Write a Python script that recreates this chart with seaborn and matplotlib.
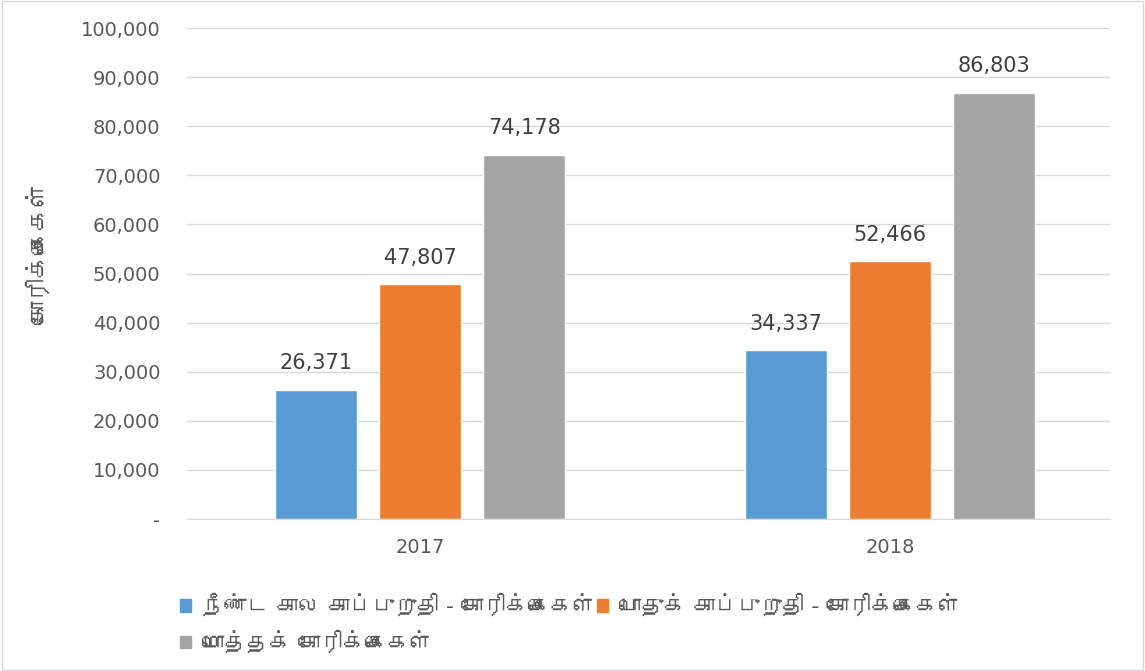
import pandas as pd
import matplotlib.pyplot as plt
import seaborn as sns
from matplotlib import font_manager
from matplotlib.ft2font import FT2Font
from matplotlib.ticker import FuncFormatter
from matplotlib.patches import Patch

# data
years = ['2017', '2018']
series = ['நீண்ட கால காப்புறுதி - கோரிக்கைகள்',
          'பொதுக் காப்புறுதி - கோரிக்கைகள்',
          'மொத்தக் கோரிக்கைகள்']
long_term = [26371, 34337]
general = [47807, 52466]
total = [74178, 86803]
colors = ['#5b9bd5', '#ed7d31', '#a5a5a5']

df = pd.DataFrame({
    'year': years * 3,
    'series': [series[0]] * 2 + [series[1]] * 2 + [series[2]] * 2,
    'value': long_term + general + total,
})


# look for any installed font that covers Tamil
def tamil_families():
    found = []
    for f in font_manager.fontManager.ttflist:
        try:
            cmap = FT2Font(f.fname).get_charmap()
        except Exception:
            continue
        if 0x0B95 in cmap and 0x0BCD in cmap and f.name not in found:
            found.append(f.name)
    return found


sns.set_style('white')
plt.rcParams['font.family'] = ['DejaVu Sans'] + tamil_families()

fig = plt.figure(figsize=(11.45, 6.71), dpi=100)
ax = fig.add_axes([187 / 1145, 1 - 519 / 671, 923 / 1145, 491 / 671])

sns.barplot(data=df, x='year', y='value', hue='series', palette=colors,
            width=0.665, gap=0.21, ax=ax, legend=False, saturation=1)

ax.set_ylim(0, 100000)
ax.set_xlim(-0.496, 1.468)
ax.set_yticks(range(0, 100001, 10000))
ax.yaxis.set_major_formatter(FuncFormatter(lambda v, p: '-' if v == 0 else f'{int(v):,}'))
ax.grid(axis='y', color='#d9d9d9', linewidth=1)
ax.set_axisbelow(True)
for s in ['top', 'right', 'left']:
    ax.spines[s].set_visible(False)
ax.spines['bottom'].set_color('#d9d9d9')
ax.tick_params(axis='both', length=0, labelsize=14, labelcolor='#595959')
ax.tick_params(axis='y', pad=19)
ax.tick_params(axis='x', pad=14)
ax.set_xlabel('')
ax.set_ylabel('கோரிக்கைகள்', fontsize=17, color='#595959')
ax.yaxis.set_label_coords(-0.146, 0.54)

for c in ax.containers:
    ax.bar_label(c, labels=[f'{int(v):,}' for v in c.datavalues],
                 fontsize=15, color='#404040', padding=12)

handles = [Patch(color=colors[i], label=series[i]) for i in range(3)]
order = [0, 2, 1]
fig.legend([handles[i] for i in order], [series[i] for i in order],
           ncol=2, loc='upper left', bbox_to_anchor=(160 / 1145, 1 - 574 / 671),
           frameon=False, fontsize=16, labelcolor='#595959',
           handlelength=0.5, handleheight=0.5, handletextpad=0.5,
           columnspacing=0.1, labelspacing=0.6)

fig.patches.append(plt.Rectangle((0.002, 0.002), 0.996, 0.996, transform=fig.transFigure,
                                 fill=False, edgecolor='#d9d9d9', linewidth=1))

plt.savefig('out.png', dpi=100)
plt.close()
